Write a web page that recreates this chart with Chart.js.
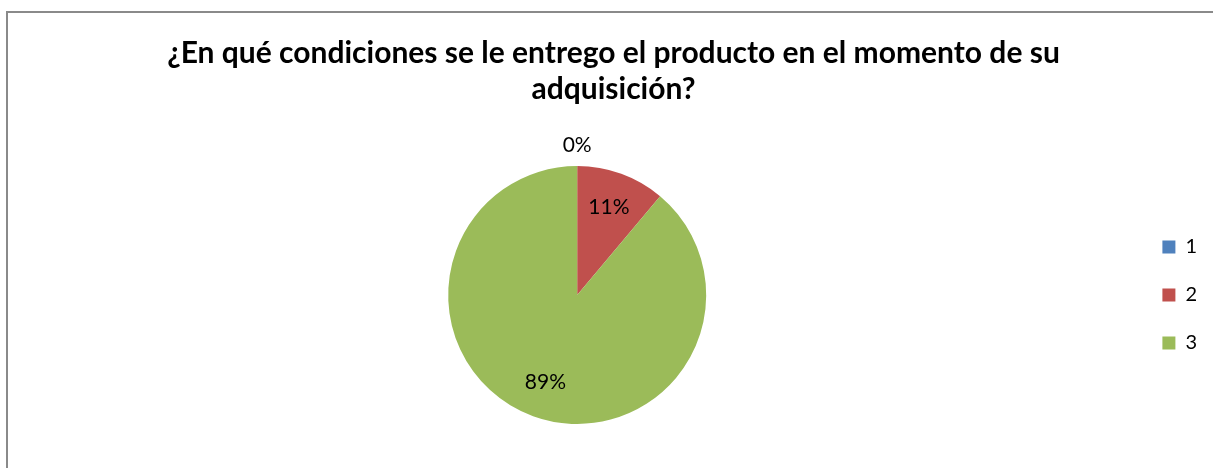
<!DOCTYPE html>
<html>
<head>
<meta charset="utf-8">
<script src="https://cdn.jsdelivr.net/npm/chart.js@4.4.0/dist/chart.umd.min.js"></script>
<style>
    html, body { margin: 0; padding: 0; background: #fff; }
    #wrap { position: relative; width: 1213px; height: 468px; overflow: hidden; }
    #frame { position: absolute; left: 6px; top: 11px; width: 1300px; height: 600px;
             border-top: 2px solid #8a8a8a; border-left: 2px solid #8a8a8a; }
    #chartCondiciones { position: absolute; left: 0; top: 0; }
</style>
</head>
<body>
<div id="wrap">
    <div id="frame"></div>
    <canvas id="chartCondiciones" width="1213" height="468"></canvas>
</div>
<script>
        const tituloLineas = ['¿En qué condiciones se le entrego el producto en el momento de su', 'adquisición?'];
        const categorias = ['1', '2', '3'];
        const respuestas = [0, 1, 8];
        const colores = ['#4F81BD', '#C0504D', '#9BBB59'];

        const fuente = "Lato, 'Open Sans', sans-serif";

        // etiquetas de porcentaje sobre cada porcion
        const etiquetasPorcentaje = {
            id: 'etiquetasPorcentaje',
            afterDatasetsDraw(chart) {
                const ctx = chart.ctx;
                const valores = chart.data.datasets[0].data;
                const total = valores.reduce((a, b) => a + b, 0);
                chart.getDatasetMeta(0).data.forEach((arc, i) => {
                    const { x, y, startAngle, endAngle, outerRadius } = arc.getProps(['x', 'y', 'startAngle', 'endAngle', 'outerRadius'], true);
                    const medio = (startAngle + endAngle) / 2;
                    const r = valores[i] === 0 ? outerRadius + 21 : outerRadius * 0.72;
                    const texto = Math.round(valores[i] / total * 100) + '%';
                    ctx.save();
                    ctx.font = `21px ${fuente}`;
                    ctx.fillStyle = '#000';
                    ctx.textAlign = 'center';
                    ctx.textBaseline = 'middle';
                    ctx.fillText(texto, x + Math.cos(medio) * r, y + Math.sin(medio) * r);
                    ctx.restore();
                });
            }
        };

        const ctx = document.getElementById('chartCondiciones').getContext('2d');
        new Chart(ctx, {
            type: 'pie',
            data: {
                labels: categorias,
                datasets: [{
                    data: respuestas,
                    backgroundColor: colores,
                    borderWidth: 0
                }]
            },
            options: {
                responsive: false,
                animation: false,
                layout: { padding: { left: 20, right: 6, top: 0, bottom: 44 } },
                plugins: {
                    title: {
                        display: true,
                        text: tituloLineas,
                        color: '#000',
                        font: { family: fuente, size: 30, weight: 'bold', lineHeight: 36 / 30 },
                        padding: { top: 35, bottom: 59 }
                    },
                    legend: {
                        position: 'right',
                        fullSize: false,
                        labels: {
                            boxWidth: 13,
                            boxHeight: 13,
                            padding: 28,
                            color: '#000',
                            font: { family: fuente, size: 20, lineHeight: 1.2 }
                        }
                    },
                    tooltip: { enabled: false }
                }
            },
            plugins: [etiquetasPorcentaje]
        });
</script>
</body>
</html>
